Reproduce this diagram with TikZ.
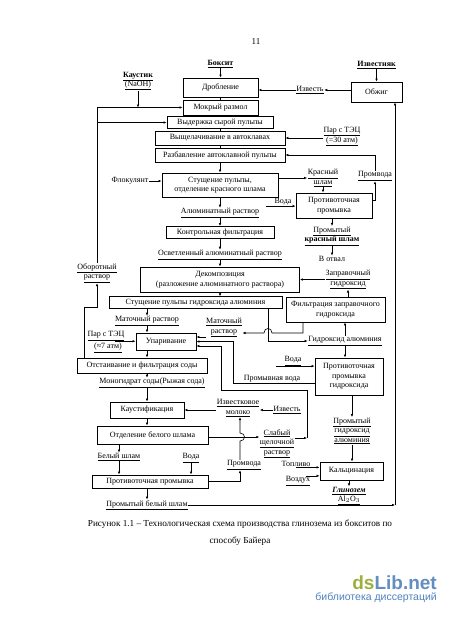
\documentclass[tikz,border=0pt]{standalone}
\usepackage{fontspec}
\setmainfont{Liberation Serif}
\newfontfamily\wmfont{Liberation Sans}
\usetikzlibrary{arrows.meta}
\definecolor{wmgreen}{RGB}{156,176,60}
\definecolor{wmblue}{RGB}{98,142,192}
\definecolor{wmblueb}{RGB}{80,130,190}
\newcommand\ulx[1]{\underline{#1}}
\begin{document}
\begin{tikzpicture}[x=1pt,y=-1pt,
  font=\fontsize{8.0}{9.5}\selectfont,
  box/.style={draw, line width=0.9pt, inner sep=0pt, align=center},
  lbl/.style={inner sep=0.5pt, align=center},
  con/.style={line width=0.6pt},
  arr/.style={line width=0.6pt, -{Latex[length=3pt,width=2.6pt]}}]
\fill[white] (0,0) rectangle (450,621);
\useasboundingbox (0,0) rectangle (450,621);

% boxes
\node[box, minimum width=75, minimum height=19] (drob) at (220.5,87.5) {Дробление};
\node[box, minimum width=75, minimum height=15] (mokr) at (220.5,107.5) {Мокрый размол};
\node[box, minimum width=106, minimum height=11.5] (vyd) at (220,122.5) {Выдержка сырой пульпы};
\node[box, minimum width=130, minimum height=14] (vysh) at (220,138) {Выщелачивание в автоклавах};
\node[box, minimum width=130, minimum height=14] (razb) at (220,155) {Разбавление автоклавной пульпы};
\node[box, minimum width=116, minimum height=24] (stush) at (220,185) {Стущение пульпы,\\отделение красного шлама};
\node[box, minimum width=76, minimum height=25] (protiv1) at (334,205.5) {Противоточная\\промывка};
\node[box, minimum width=108, minimum height=12] (kontr) at (220,232.5) {Контрольная фильтрация};
\node[box, minimum width=159, minimum height=25] (dekomp) at (220,279.5) {Декомпозиция\\(разложение алюминатного раствора)};
\node[box, minimum width=173, minimum height=11.5] (stushG) at (195.5,302.5) {Стущение пульпы гидроксида алюминия};
\node[box, minimum width=99, minimum height=25] (filtrZ) at (335.5,309.5) {Фильтрация заправочного\\гидроксида};
\node[box, minimum width=60, minimum height=17] (upar) at (166,341.5) {Упаривание};
\node[box, minimum width=130, minimum height=15] (otst) at (142,365.5) {Отстаивание и фильтрация соды};
\node[box, minimum width=68, minimum height=37] (protivG) at (349,376.5) {Противоточная\\промывка\\гидроксида};
\node[box, minimum width=74, minimum height=16] (kaust) at (147,410) {Каустификация};
\node[box, minimum width=111, minimum height=18] (otdel) at (152.5,435) {Отделение белого шлама};
\node[box, minimum width=116, minimum height=13] (protiv2) at (150,481.5) {Противоточная промывка};
\node[box, minimum width=63, minimum height=18] (kalc) at (351.5,471) {Кальцинация};
\node[box, minimum width=51, minimum height=20] (obzhig) at (376.5,92) {Обжиг};

% labels
\node[lbl, font=\fontsize{9}{10}\selectfont] (page) at (256,42) {11};
\node[lbl] (boksit) at (220.5,64) {\ulx{\textbf{Боксит}}};
\node[lbl] (izvestnyak) at (376.5,65) {\ulx{\textbf{Известняк}}};
\node[lbl] (kaustik) at (138,81) {\ulx{\textbf{Каустик}}\\\ulx{(NaOH)}};
\node[lbl] (izvest1) at (310,90) {\ulx{Известь}};
\node[lbl] (par30) at (342,136.5) {\ulx{Пар с ТЭЦ}\\\ulx{(=30 атм)}};
\node[lbl] (flok) at (130,181) {Флокулянт};
\node[lbl] (krasn) at (323,178) {\ulx{Красный}\\\ulx{шлам}};
\node[lbl] (promvoda1) at (375,176) {\ulx{Промвода}};
\node[lbl] (voda1) at (283,202) {Вода};
\node[lbl] (alumR) at (220,213) {\ulx{Алюминатный раствор}};
\node[lbl] (promKr) at (332,236) {\ulx{Промытый}\\\ulx{\textbf{красный шлам}}};
\node[lbl] (votval) at (332,259) {В отвал};
\node[lbl] (osvet) at (220,255) {\ulx{Осветленный алюминатный раствор}};
\node[lbl] (oborot) at (97,273) {\ulx{Оборотный}\\\ulx{раствор}};
\node[lbl] (zaprav) at (348,279.5) {\ulx{Заправочный}\\\ulx{гидроксид}};
\node[lbl] (matoch1) at (147,321) {\ulx{Маточный раствор}};
\node[lbl] (matoch2) at (224,327.5) {\ulx{Маточный}\\\ulx{раствор}};
\node[lbl] (gidrAl) at (345,341) {\ulx{Гидроксид алюминия}};
\node[lbl] (par7a) at (106,336) {\ulx{Пар с ТЭЦ}};
\node[lbl] (par7b) at (108,348) {\ulx{(≈7 атм)}};
\node[lbl] (voda2) at (293,361) {\ulx{Вода}};
\node[lbl] (promVoda) at (272,379) {Промывная вода};
\node[lbl] (monogidrat) at (152,383) {\ulx{Моногидрат соды(Рыжая сода)}};
\node[lbl] (izvMoloko) at (238,408) {\ulx{Известковое}\\\ulx{молоко}};
\node[lbl] (izvest2) at (287,410) {\ulx{Известь}};
\node[lbl] (promGidr) at (352,431) {\ulx{Промытый}\\\ulx{гидроксид}\\\ulx{алюминия}};
\node[lbl] (slab) at (277,443.5) {\ulx{Слабый}\\\ulx{щелочной}\\\ulx{раствор}};
\node[lbl] (belShlam) at (119,457) {\ulx{Белый шлам}};
\node[lbl] (voda3) at (191,458) {\ulx{Вода}};
\node[lbl] (promvoda2) at (244,465) {\ulx{Промвода}};
\node[lbl] (toplivo) at (296,464) {Топливо};
\node[lbl] (vozduh) at (298,481) {\ulx{Воздух}};
\node[lbl] (glinozem) at (349,496) {\ulx{\textbf{\textit{Глинозем}}}\\\ulx{Al$_2$O$_3$}};
\node[lbl] (promBel) at (147,505) {\ulx{Промытый белый шлам}};

% helper coordinates
\coordinate (uA) at ([yshift=4.5pt]upar.east);
\coordinate (uB) at (upar.east);
\coordinate (uC) at ([yshift=-4.5pt]upar.east);
\coordinate (j1) at (268,340);
\coordinate (fz) at (303,333);
\coordinate (pw) at (233,383);
\coordinate (s1) at (307,438);
\coordinate (s2) at (221,390);
\coordinate (ob1) at (84,307);
\coordinate (hv) at (240,437);
\coordinate (rc) at (395,0);

% top part
\draw[arr] (boksit) -- (drob);
\draw[arr] (izvestnyak) -- (obzhig);
\draw[arr] (obzhig.west |- izvest1) -- (izvest1.east);
\draw[arr] (izvest1.west) -- (drob.east |- izvest1);
\draw[con] (drob) -- (mokr);
\draw[con] (mokr) -- (vyd);
\draw[con] (vyd) -- (vysh);
\draw[con] (vysh) -- (razb);
\draw[arr] (razb) -- (stush);
\draw[arr] (oborot.north) |- (mokr.west);
\draw[arr] (oborot.north |- vyd.west) -- (vyd.west);
\draw[arr] (kaustik.south) -- (kaustik.south |- mokr.west);
\draw[arr] (par30.west |- vysh.east) -- (vysh.east);
\draw[arr] ([yshift=5pt]protiv1.east) -| (promvoda1.south);
\draw[arr] (promvoda1.north) |- (razb.east);
\draw[arr] (flok.east) -- (flok.east -| stush.west);
\draw[arr] (krasn.west -| stush.east) -- (krasn.west);
\draw[arr] (krasn.south) -- (krasn.south |- protiv1.north);
\draw[arr] ([xshift=-8pt]voda1.south west) -- (voda1.south west -| protiv1.west);
\draw[arr] (protiv1.south -| promKr) -- (promKr.north);
\draw[arr] (promKr) -- (votval);
\draw[arr] (stush) -- (alumR);
\draw[arr] (alumR) -- (kontr);
\draw[arr] (kontr) -- (osvet);
\draw[arr] (osvet) -- (dekomp);
\draw[arr] (zaprav.west) -- (zaprav.west -| dekomp.east);
\draw[arr] (filtrZ.north -| zaprav) -- (zaprav.south);
\draw[arr] (dekomp.south) -- (dekomp.south |- stushG.north);

% middle part
\draw[arr] (stushG.south -| matoch1) -- (matoch1.north);
\draw[arr] (matoch1.south) -- (matoch1.south |- upar.north);
\draw[arr] (stushG.south -| j1) |- (gidrAl.west);
\draw[arr] (filtrZ.south -| fz) -- (fz) -- (272,333) .. controls (272,327) and (264,327) .. (264,333) -- (matoch2.east |- fz);
\draw[arr] (matoch2.west |- uA) -- (uA);
\draw[arr] (protivG.west |- pw) -- (pw) |- (uB);
\draw[arr] (slab.east |- s1) -- (s1);
\draw[arr] (s1) |- (s2) |- (uC);
\draw[arr] ([xshift=-10pt]par7a.south east) -- (par7a.south east -| upar.west);
\draw[arr] (gidrAl.north) -- (gidrAl.north |- filtrZ.south);
\draw[arr] (gidrAl.south) -- (gidrAl.south |- protivG.north);
\draw[arr] ([xshift=-8pt]voda2.south west) -- (voda2.south west -| protivG.west);
\draw[arr] (protivG.south -| promGidr) -- (promGidr.north);
\draw[arr] (promGidr.south) -- (promGidr.south |- kalc.north);
\draw[arr] (toplivo.south) -- (toplivo.south -| kalc.west);
\draw[arr] ([xshift=-5pt]vozduh.north east) -- (vozduh.north east -| kalc.west);
\draw[arr] (kalc.south -| glinozem) -- (glinozem.north);

% lower left
\draw[arr] (upar.south -| matoch1) -- (otst.north -| matoch1);
\draw[arr] (otst.north -| ob1) -- (ob1) -| (oborot.south);
\draw[arr] (otst.south -| matoch1) -- (monogidrat.north -| matoch1);
\draw[arr] (monogidrat.south -| matoch1) -- (kaust.north -| matoch1);
\draw[arr] (izvMoloko.west |- kaust) -- (kaust.east);
\draw[arr] (izvest2.west) -- (izvest2.west -| izvMoloko.east);
\draw[arr] (kaust.south) -- (otdel.north -| kaust);
\draw[arr] (promvoda2.north -| hv) -- ([yshift=-4pt]hv) .. controls +(6,0) and +(6,0) .. ([yshift=4pt]hv) -- (izvMoloko.south -| hv);
\draw[arr] (otdel.east |- hv) -- (slab.west |- hv);
\draw[arr] (otdel.south -| belShlam) -- (belShlam.north);
\draw[arr] (belShlam.south) -- (belShlam.south |- protiv2.north);
\draw[arr] (voda3.south) -- (voda3.south |- protiv2.north);
\draw[arr] (protiv2.east) -| (hv |- promvoda2.south);
\draw[arr] (protiv2.south -| promBel) -- (promBel.north);
\draw[arr] (promBel.east) -- (promBel.east -| rc);
\draw[arr] (promBel.east -| rc) -- (rc |- obzhig.south);

% caption
\node[lbl, font=\fontsize{9.2}{11}\selectfont] (cap1) at (240,524) {Рисунок 1.1 – Технологическая схема производства глинозема из бокситов по};
\node[lbl, font=\fontsize{9.2}{11}\selectfont] (cap2) at (240,541) {способу Байера};

% watermark
\node[anchor=east, inner sep=0pt, font=\wmfont\bfseries\fontsize{19}{19}\selectfont] (wm1) at (437,583) {\textcolor{wmgreen}{ds}\textcolor{wmblue}{Lib.net}};
\node[anchor=east, inner sep=0pt, text=wmblueb, font=\wmfont\fontsize{10.5}{11}\selectfont] (wm2) at (437,598) {библиотека диссертаций};
\end{tikzpicture}
\end{document}
